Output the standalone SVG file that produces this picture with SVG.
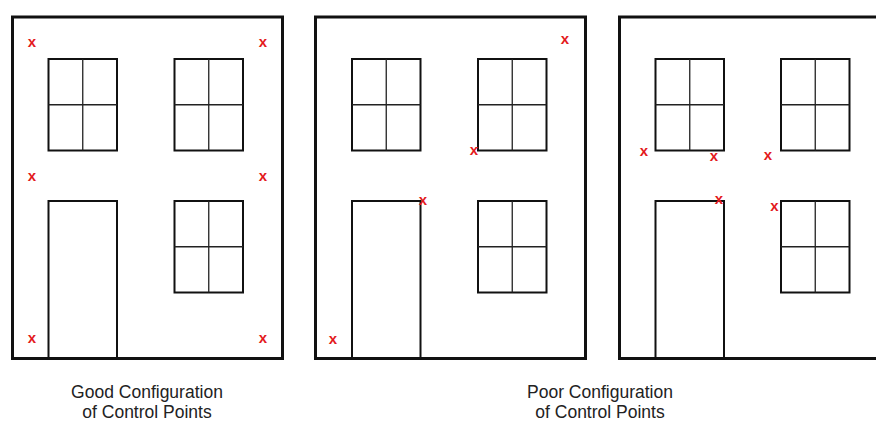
<svg xmlns="http://www.w3.org/2000/svg" xmlns:xlink="http://www.w3.org/1999/xlink" width="876" height="421" viewBox="0 0 876 421">
<style>
.wall{fill:#fff;stroke:#111;stroke-width:3}
.frame{fill:none;stroke:#111;stroke-width:2}
.mull{stroke:#222;stroke-width:1.3}
.pt{fill:#e3191c;font-family:"Liberation Sans",Arial,sans-serif;font-weight:bold;font-size:15px;text-anchor:middle}
.cap{fill:#222;font-family:"Liberation Sans",Arial,sans-serif;font-size:17.5px;text-anchor:middle}
</style>
<defs>
<g id="win">
<rect class="frame" x="0" y="0" width="68.5" height="91.5"/>
<line class="mull" x1="34.25" y1="0" x2="34.25" y2="91.5"/>
<line class="mull" x1="0" y1="45.75" x2="68.5" y2="45.75"/>
</g>
</defs>
<rect width="876" height="421" fill="#fff"/>
<g id="panel-good">
<rect class="wall" x="12.5" y="17" width="270" height="341.5"/>
<use xlink:href="#win" x="48.5" y="59"/>
<use xlink:href="#win" x="174.5" y="59"/>
<use xlink:href="#win" x="174.5" y="201"/>
<rect class="frame" x="48.5" y="201" width="68.5" height="157.5"/>
<text class="pt" x="32" y="47">x</text>
<text class="pt" x="263" y="47">x</text>
<text class="pt" x="32" y="181">x</text>
<text class="pt" x="263" y="181">x</text>
<text class="pt" x="32" y="343">x</text>
<text class="pt" x="263" y="343">x</text>
</g>
<g id="panel-poor-1">
<rect class="wall" x="315.5" y="17" width="270" height="341.5"/>
<use xlink:href="#win" x="352" y="59"/>
<use xlink:href="#win" x="478" y="59"/>
<use xlink:href="#win" x="478" y="201"/>
<rect class="frame" x="352" y="201" width="68.5" height="157.5"/>
<text class="pt" x="565" y="44">x</text>
<text class="pt" x="474" y="155">x</text>
<text class="pt" x="423" y="204.5">x</text>
<text class="pt" x="333" y="344">x</text>
</g>
<g id="panel-poor-2">
<rect class="wall" x="619.5" y="17" width="270" height="341.5"/>
<use xlink:href="#win" x="655.5" y="59"/>
<use xlink:href="#win" x="781" y="59"/>
<use xlink:href="#win" x="781" y="201"/>
<rect class="frame" x="655.5" y="201" width="68.5" height="157.5"/>
<text class="pt" x="644" y="156">x</text>
<text class="pt" x="714" y="161">x</text>
<text class="pt" x="768" y="160">x</text>
<text class="pt" x="719" y="204">x</text>
<text class="pt" x="774.5" y="211">x</text>
</g>
<g id="captions">
<text class="cap" x="147" y="398">Good Configuration</text>
<text class="cap" x="147" y="417.5">of Control Points</text>
<text class="cap" x="600" y="398">Poor Configuration</text>
<text class="cap" x="600" y="417.5">of Control Points</text>
</g>
</svg>
